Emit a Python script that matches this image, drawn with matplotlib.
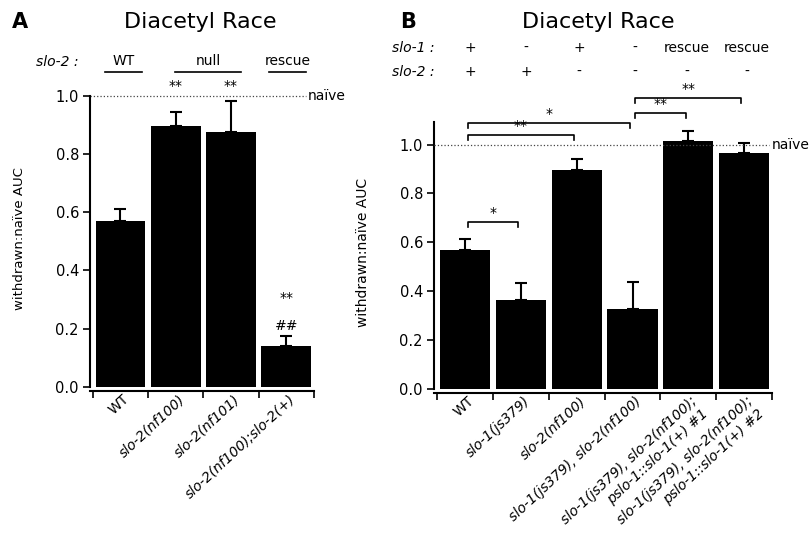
import numpy as np
import matplotlib
matplotlib.use("Agg")
import matplotlib.pyplot as plt
from matplotlib.lines import Line2D
from matplotlib.transforms import ScaledTranslation

plt.rcParams['font.family'] = ['DejaVu Sans']

# Panel A data
a_labels = ["WT", "slo-2(nf100)", "slo-2(nf101)", "slo-2(nf100);slo-2(+)"]
a_values = [0.57, 0.898, 0.877, 0.141]
a_err = [0.043, 0.048, 0.107, 0.033]
a_groups = ["WT", "null", "rescue"]

# Panel B data
b_labels = ["WT", "slo-1(js379)", "slo-2(nf100)", "slo-1(js379), slo-2(nf100)",
            "slo-1(js379), slo-2(nf100);\npslo-1::slo-1(+) #1",
            "slo-1(js379), slo-2(nf100);\npslo-1::slo-1(+) #2"]
b_values = [0.568, 0.362, 0.895, 0.327, 1.015, 0.966]
b_err = [0.045, 0.070, 0.046, 0.110, 0.041, 0.041]
b_slo1 = ["+", "-", "+", "-", "rescue", "rescue"]
b_slo2 = ["+", "+", "-", "-", "-", "-"]
# brackets: (i, j, height, text)
b_brackets = [(0, 1, 0.683, "*"), (0, 2, 1.038, "**"), (0, 3, 1.089, "*"),
              (3, 4, 1.13, "**"), (3, 5, 1.19, "**")]

W, H = 809, 539
fig = plt.figure(figsize=(W / 100, H / 100), dpi=100)


def fx(x):
    return x / W


def fy(y):
    return 1 - y / H


def style_axes(ax, labels, ymax_spine):
    n = len(labels)
    ax.spines['top'].set_visible(False)
    ax.spines['right'].set_visible(False)
    ax.spines['left'].set_linewidth(1.5)
    ax.spines['bottom'].set_linewidth(1.5)
    ax.spines['bottom'].set_position(('outward', 3))
    ax.spines['left'].set_bounds(0, ymax_spine)
    ax.set_yticks(np.arange(0, 1.01, 0.2))
    ax.set_yticklabels([f"{v:.1f}" for v in np.arange(0, 1.01, 0.2)], fontsize=10.5)
    ax.tick_params(axis='y', direction='out', length=5, width=1.2, pad=3)
    ax.set_xticks(np.arange(n))
    ax.tick_params(axis='x', length=0, pad=1)
    ax.set_xticks(np.arange(n + 1) - 0.5, minor=True)
    ax.tick_params(axis='x', which='minor', direction='out', length=5, width=1.2)
    ax.set_xticklabels(labels, rotation=43, ha='right', va='top',
                       rotation_mode='anchor', fontsize=10)
    offset = ScaledTranslation(2 / 100, 0, fig.dpi_scale_trans)
    for lab in ax.get_xticklabels():
        if lab.get_text() != "WT":
            lab.set_style('italic')
        lab.set_transform(lab.get_transform() + offset)


def draw_bars(ax, values, err):
    x = np.arange(len(values))
    ax.bar(x, values, width=0.9, color='black', linewidth=0, zorder=2)
    ax.errorbar(x, values, yerr=[np.zeros(len(err)), err], fmt='none',
                ecolor='black', elinewidth=1.5, capsize=4.5, capthick=1.5, zorder=1)


# ---------------- Panel A ----------------
axA = fig.add_axes([fx(90), 1 - 386.7 / H, 224 / W, 290.7 / H])
draw_bars(axA, a_values, a_err)
axA.set_xlim(-0.55, 3.47)
axA.set_ylim(0, 1.0)
style_axes(axA, a_labels, 1.0)
axA.set_ylabel("withdrawn:naïve AUC", fontsize=9.5)
axA.yaxis.set_label_coords(-0.285, 0.51)
axA.plot([-0.55, 3.35], [1.0, 1.0], ls=':', color='#444', lw=0.9, clip_on=False)
axA.text(3.38, 1.0, "naïve", fontsize=10, va='center', ha='left')
for i in (1, 2):
    axA.text(i, 1.01, "**", ha='center', va='bottom', fontsize=10)
axA.text(3, 0.28, "**", ha='center', va='bottom', fontsize=10)
axA.text(3, 0.185, "##", ha='center', va='bottom', fontsize=10)

fig.text(fx(12), fy(22), "A", fontsize=15, fontweight='bold', va='center')
fig.text(fx(200), fy(22), "Diacetyl Race", fontsize=16, ha='center', va='center')
fig.text(fx(78), fy(62), "slo-2 :", fontsize=10, style='italic', ha='right', va='center')
group_x = [(105, 142), (175, 241), (269, 306)]
for name, (x0, x1) in zip(a_groups, group_x):
    fig.text(fx((x0 + x1) / 2), fy(61), name, fontsize=10, ha='center', va='center')
    fig.add_artist(Line2D([fx(x0), fx(x1)], [fy(72), fy(72)], color='black', lw=1.2))

# ---------------- Panel B ----------------
axB = fig.add_axes([fx(434), 1 - 388.7 / H, 338 / W, 267 / H])
draw_bars(axB, b_values, b_err)
axB.set_xlim(-0.56, 5.48)
axB.set_ylim(0, 1.094)
style_axes(axB, b_labels, 1.094)
axB.set_ylabel("withdrawn:naïve AUC", fontsize=10)
axB.yaxis.set_label_coords(-0.19, 0.51)
axB.plot([-0.56, 5.45], [1.0, 1.0], ls=':', color='#444', lw=0.9, clip_on=False, zorder=3)
axB.text(5.5, 1.0, "naïve", fontsize=10, va='center', ha='left')
for i, j, h, t in b_brackets:
    xi, xj = i + 0.05, j - 0.05
    axB.plot([xi, xi, xj, xj], [h - 0.02, h, h, h - 0.02], color='black',
             lw=1.2, clip_on=False)
    axB.text((xi + xj) / 2, h + 0.008, t, ha='center', va='bottom', fontsize=10)

fig.text(fx(400), fy(22), "B", fontsize=15, fontweight='bold', va='center')
fig.text(fx(598), fy(22), "Diacetyl Race", fontsize=16, ha='center', va='center')
fig.text(fx(435), fy(48), "slo-1 :", fontsize=10, style='italic', ha='right', va='center')
fig.text(fx(435), fy(72), "slo-2 :", fontsize=10, style='italic', ha='right', va='center')
row_x = [470, 526, 579, 635, 687, 747]
for x, s1, s2 in zip(row_x, b_slo1, b_slo2):
    fig.text(fx(x), fy(48), s1, fontsize=10, ha='center', va='center')
    fig.text(fx(x), fy(72), s2, fontsize=10, ha='center', va='center')

fig.savefig("out.png", dpi=100)
